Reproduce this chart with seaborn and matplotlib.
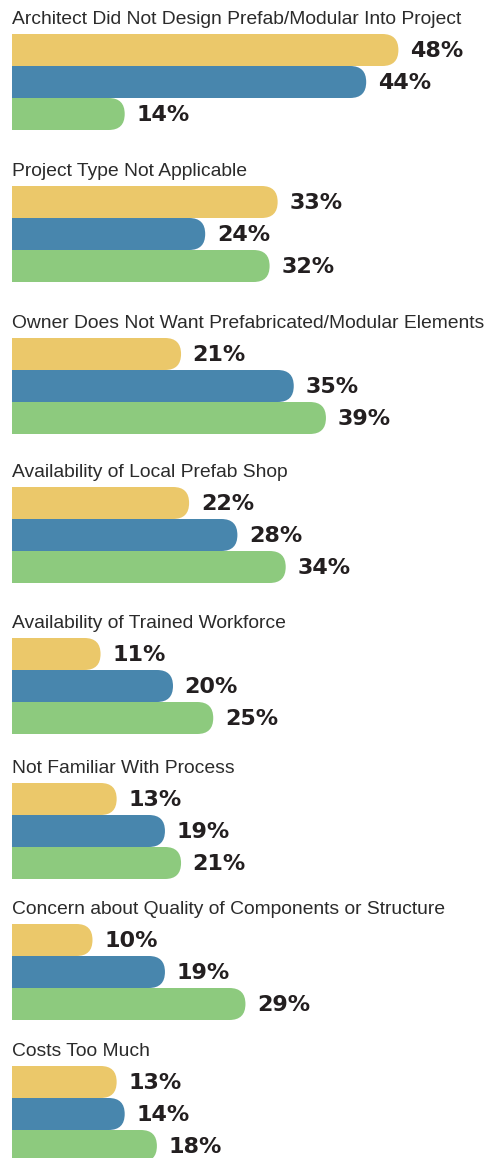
import numpy as np
import pandas as pd
import seaborn as sns
import matplotlib.pyplot as plt
from matplotlib.patches import FancyBboxPatch

questions = [
    "Architect Did Not Design Prefab/Modular Into Project",
    "Project Type Not Applicable",
    "Owner Does Not Want Prefabricated/Modular Elements",
    "Availability of Local Prefab Shop",
    "Availability of Trained Workforce",
    "Not Familiar With Process",
    "Concern about Quality of Components or Structure",
    "Costs Too Much",
]
series = ["Group A", "Group B", "Group C"]
yellow_vals = [48, 33, 21, 22, 11, 13, 10, 13]
blue_vals = [44, 24, 35, 28, 20, 19, 19, 14]
green_vals = [14, 32, 39, 34, 25, 21, 29, 18]

colors = ["#ebc86a", "#4886ad", "#8dca7e"]
label_color = "#231f20"
title_color = "#2b2b2b"

# layout in pixels
W, H = 490, 1158
left_px = 12
bar_px = 32
px_per_pct = 8.05
tops = [34, 186, 338, 487, 638, 783, 924, 1066]

sns.set_theme(style="white")
plt.rcParams["font.family"] = ["Liberation Sans", "DejaVu Sans"]

fig = plt.figure(figsize=(W / 100, H / 100), dpi=100)

xmax = (W - left_px) / px_per_pct
r = (bar_px / 2) / px_per_pct
asp = 0.5 / r

for i, q in enumerate(questions):
    df = pd.DataFrame({
        "series": series,
        "value": [yellow_vals[i], blue_vals[i], green_vals[i]],
    })
    top = tops[i]
    ax = fig.add_axes([left_px / W, 1 - (top + 3 * bar_px) / H,
                       (W - left_px) / W, 3 * bar_px / H])
    sns.barplot(data=df, x="value", y="series", hue="series", palette=colors,
                width=1, linewidth=0, legend=False, orient="h", ax=ax)

    # swap square bars for bars with a rounded right end
    for p, c in zip(list(ax.patches), colors):
        x0, y0, w, h = p.get_x(), p.get_y(), p.get_width(), p.get_height()
        p.remove()
        ax.add_patch(FancyBboxPatch((x0 - r, y0), w + r, h,
                                    boxstyle=f"round,pad=0,rounding_size={r}",
                                    mutation_aspect=asp, facecolor=c,
                                    edgecolor="none"))
        ax.text(x0 + w + 1.45, y0 + h / 2 + 0.03, f"{w:.0f}%", va="center",
                ha="left", fontsize=16, fontweight="bold",
                family="DejaVu Sans", color=label_color)

    ax.set_xlim(0, xmax)
    ax.set_ylim(2.5, -0.5)
    ax.axis("off")
    ax.set_title(q, loc="left", pad=7, fontsize=13.9, color=title_color)

fig.savefig("out.png", dpi=100)
